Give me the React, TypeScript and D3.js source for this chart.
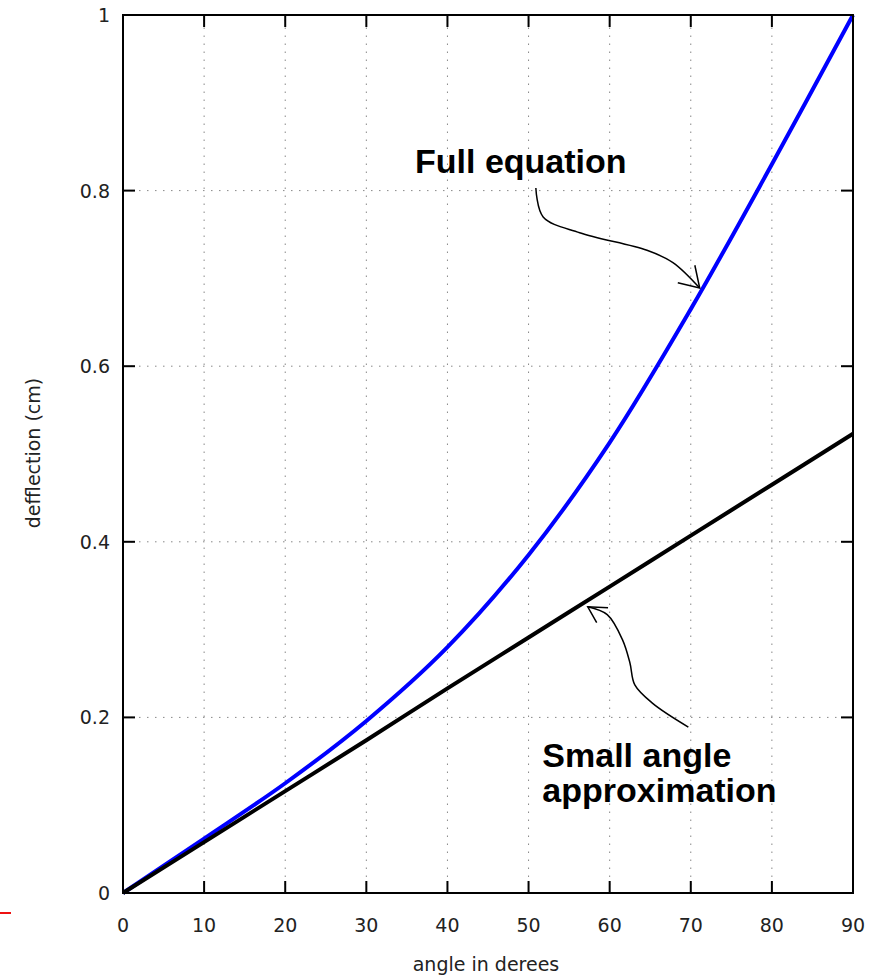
import React from 'react';
import * as d3 from 'd3';

// values
const angles = [0, 10, 20, 30, 40, 50, 60, 70, 80, 90];
const fullEquation = [0, 0.062, 0.125, 0.196, 0.28, 0.385, 0.513, 0.665, 0.83, 1.0];
const smallAngle = [0, 0.058, 0.116, 0.174, 0.233, 0.291, 0.349, 0.407, 0.465, 0.523];

const xTicks = [0, 10, 20, 30, 40, 50, 60, 70, 80, 90];
const yTicks = [0, 0.2, 0.4, 0.6, 0.8, 1];

// hand drawn arrows, in data coordinates (angle, deflection)
const fullArrow: [number, number][] = [
  [50.9, 0.803], [51.8, 0.77], [56.3, 0.752], [64.6, 0.732], [67.8, 0.718], [71.1, 0.689],
];
const fullHead: [number, number][] = [[68.4, 0.695], [71.1, 0.689], [70.5, 0.715]];
const smallArrow: [number, number][] = [
  [57.3, 0.326], [59.7, 0.317], [61.6, 0.288], [62.5, 0.262], [63.1, 0.237], [65.3, 0.216], [69.7, 0.189],
];
const smallHead: [number, number][] = [[59.8, 0.325], [57.3, 0.326], [58.4, 0.308]];

export default function App() {
  const width = 879;
  const height = 977;
  const x = d3.scaleLinear().domain([0, 90]).range([123, 853]);
  const y = d3.scaleLinear().domain([0, 1]).range([893, 15]);
  const [x0, x1] = x.range();
  const [y0, y1] = y.range();
  const tickLen = 12;
  const font = '"DejaVu Sans", sans-serif';

  const line = d3.line<number>()
    .x((_, i) => x(angles[i]))
    .y((d) => y(d))
    .curve(d3.curveCatmullRom.alpha(0.5));

  const handLine = d3.line<[number, number]>()
    .x((d) => x(d[0]))
    .y((d) => y(d[1]))
    .curve(d3.curveCatmullRom);
  const straight = d3.line<[number, number]>().x((d) => x(d[0])).y((d) => y(d[1]));

  return (
    <div style={{ position: 'absolute', left: 0, top: 0 }}>
      <svg width={width} height={height} style={{ display: 'block', background: '#fff' }}>
        {/* grid */}
        <g stroke="#888" strokeWidth={1} strokeDasharray="1.5,6.5">
          {xTicks.slice(1, -1).map((t) => (
            <line key={'gx' + t} x1={x(t)} x2={x(t)} y1={y0} y2={y1} />
          ))}
          {yTicks.slice(1, -1).map((t) => (
            <line key={'gy' + t} x1={x0} x2={x1} y1={y(t)} y2={y(t)} />
          ))}
        </g>

        {/* ticks, mirrored on all sides */}
        <g stroke="#000" strokeWidth={2}>
          {xTicks.map((t) => (
            <g key={'tx' + t}>
              <line x1={x(t)} x2={x(t)} y1={y0} y2={y0 - tickLen} />
              <line x1={x(t)} x2={x(t)} y1={y1} y2={y1 + tickLen} />
            </g>
          ))}
          {yTicks.map((t) => (
            <g key={'ty' + t}>
              <line x1={x0} x2={x0 + tickLen} y1={y(t)} y2={y(t)} />
              <line x1={x1} x2={x1 - tickLen} y1={y(t)} y2={y(t)} />
            </g>
          ))}
        </g>

        {/* tick labels */}
        <g fontFamily={font} fontSize={19} fill="#222">
          {xTicks.map((t) => (
            <text key={'lx' + t} x={x(t)} y={y0 + 39} textAnchor="middle">{t}</text>
          ))}
          {yTicks.map((t) => (
            <text key={'ly' + t} x={x0 - 13} y={y(t) + 7} textAnchor="end">{t}</text>
          ))}
        </g>

        {/* axis titles */}
        <text x={486} y={971} textAnchor="middle" fontFamily={font} fontSize={19} fill="#222">
          angle in derees
        </text>
        <text
          transform={`translate(40,${453}) rotate(-90)`}
          textAnchor="middle"
          fontFamily={font}
          fontSize={19}
          fill="#222"
        >
          defflection (cm)
        </text>

        {/* curves */}
        <path d={line(fullEquation) || ''} fill="none" stroke="#0000ff" strokeWidth={4} />
        <path d={line(smallAngle) || ''} fill="none" stroke="#000" strokeWidth={4} />

        {/* frame */}
        <rect x={x0} y={y1} width={x1 - x0} height={y0 - y1} fill="none" stroke="#000" strokeWidth={2} />

        {/* annotations */}
        <g fill="none" stroke="#000" strokeWidth={1.5}>
          <path d={handLine(fullArrow) || ''} />
          <path d={straight(fullHead) || ''} />
          <path d={handLine(smallArrow) || ''} />
          <path d={straight(smallHead) || ''} />
        </g>
        <g fontFamily='"Liberation Sans", Arial, sans-serif' fontWeight="bold" fontSize={34} fill="#000">
          <text x={x(36.0)} y={y(0.82)}>Full equation</text>
          <text x={x(51.7)} y={y(0.1435)}>Small angle</text>
          <text x={x(51.7)} y={y(0.1036)}>approximation</text>
        </g>

        {/* stray red mark at the left edge */}
        <line x1={0} x2={11} y1={913} y2={913} stroke="#ee1111" strokeWidth={2} />
      </svg>
    </div>
  );
}
